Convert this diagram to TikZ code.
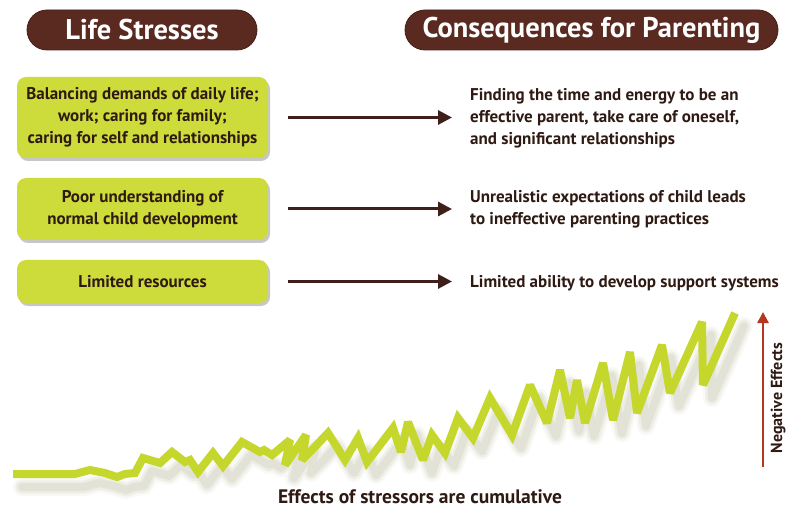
\documentclass[tikz,border=0pt]{standalone}
\usepackage{fontspec}
\setmainfont{PT Sans}
\usetikzlibrary{arrows.meta,shadows}
\definecolor{pillbrown}{HTML}{5A2A21}
\definecolor{limefill}{HTML}{CDDB3B}
\definecolor{zigcol}{HTML}{C5D72C}
\definecolor{txtcol}{HTML}{2E1A12}
\definecolor{arrbrown}{HTML}{3E1F1A}
\definecolor{redarr}{HTML}{B2371E}
\definecolor{shadcol}{HTML}{8E9460}
\newcommand{\zzpath}{(13,474) -- (75,474) -- (90,470) -- (105,473) -- (117,477) -- (125,474) -- (135,473) -- (143,458) -- (160,463) -- (172,452) -- (185,462) -- (190,460) -- (198,472) -- (213,453) -- (223,466) -- (242,442) -- (260,452) -- (264,450) -- (272,455) -- (290,440) -- (285,465) -- (306,435) -- (302,460) -- (310,452) -- (328,433) -- (345,460) -- (358,438) -- (367,462) -- (393,428) -- (401,452) -- (408,422) -- (423,460) -- (432,435) -- (445,453) -- (458,418) -- (473,438) -- (490,398) -- (512,435) -- (530,385) -- (547,423) -- (560,370) -- (570,418) -- (577,380) -- (585,423) -- (603,363) -- (613,420) -- (630,352) -- (637,413) -- (662,345) -- (670,393) -- (702,322) -- (703,385) -- (735,313)}
\begin{document}
\begin{tikzpicture}[x=1pt,y=-1pt,
  pill/.style={fill=pillbrown, draw=pillbrown!75!black, line width=0.8pt, rounded corners=20pt,
    minimum height=40pt, text=white, font=\fontsize{28.5}{31}\selectfont\bfseries, inner sep=0pt},
  stressbox/.style={fill=limefill, rounded corners=9pt, minimum width=251pt, align=center,
    text=txtcol, font=\fontsize{17}{22}\selectfont\bfseries, inner sep=0pt,
    drop shadow={shadow xshift=2pt, shadow yshift=-3pt, opacity=0.22, fill=black}},
  conseq/.style={anchor=west, align=left, text=txtcol, font=\fontsize{17}{22}\selectfont\bfseries, inner sep=0pt},
  linkarrow/.style={draw=arrbrown, line width=3pt, -{Triangle[length=14pt,width=14pt]}},
  zigline/.style={draw=zigcol, line width=8pt, line join=miter, miter limit=2.5},
  zigshadow/.style={draw=shadcol, line join=round, line cap=round},
]
\useasboundingbox (0,0) rectangle (786,510);
\fill[white] (0,0) rectangle (786,510);

% headers
\node[pill, minimum width=230pt] (h1) at (142,30) {Life Stresses};
\node[pill, minimum width=373pt] (h2) at (591.5,30) {Consequences for Parenting};

% stress boxes
\node[stressbox, minimum height=81pt] (b1) at (142.5,117.5) {Balancing demands of daily life;\\work; caring for family;\\caring for self and relationships};
\node[stressbox, minimum height=62pt] (b2) at (142.5,209) {Poor understanding of\\normal child development};
\node[stressbox, minimum height=43pt] (b3) at (142.5,281.5) {Limited resources};

% consequences
\node[conseq] (c1) at (470,118.5) {Finding the time and energy to be an\\effective parent, take care of oneself,\\and significant relationships};
\node[conseq] (c2) at (470,209) {Unrealistic expectations of child leads\\to ineffective parenting practices};
\node[conseq] (c3) at (470,283) {Limited ability to develop support systems};

% arrows
\draw[linkarrow] ([xshift=20pt]b1.east) -- ([xshift=-18pt]c1.west |- b1.east);
\draw[linkarrow] ([xshift=20pt]b2.east) -- ([xshift=-18pt]c2.west |- b2.east);
\draw[linkarrow] ([xshift=20pt]b3.east) -- ([xshift=-18pt]c3.west |- b3.east);

% zigzag shadow
\begin{scope}[shift={(9,13)}]
  \draw[zigshadow, line width=18pt, opacity=0.06] \zzpath;
  \draw[zigshadow, line width=13pt, opacity=0.09] \zzpath;
  \draw[zigshadow, line width=8pt, opacity=0.12] \zzpath;
\end{scope}
% zigzag line
\draw[zigline] \zzpath;

% negative effects arrow
\coordinate (ra) at (763,467);
\coordinate (rb) at (763,312);
\draw[draw=redarr, line width=2.5pt, -{Triangle[length=11pt,width=11pt]}] (ra) -- (rb);
\node[rotate=90, anchor=base, text=txtcol, font=\fontsize{16}{18}\selectfont\bfseries, inner sep=0pt] (ne) at (782,398) {Negative Effects};

% caption
\node[text=txtcol, font=\fontsize{19.5}{22}\selectfont\bfseries, inner sep=0pt] (cap) at (420,497) {Effects of stressors are cumulative};
\end{tikzpicture}
\end{document}
